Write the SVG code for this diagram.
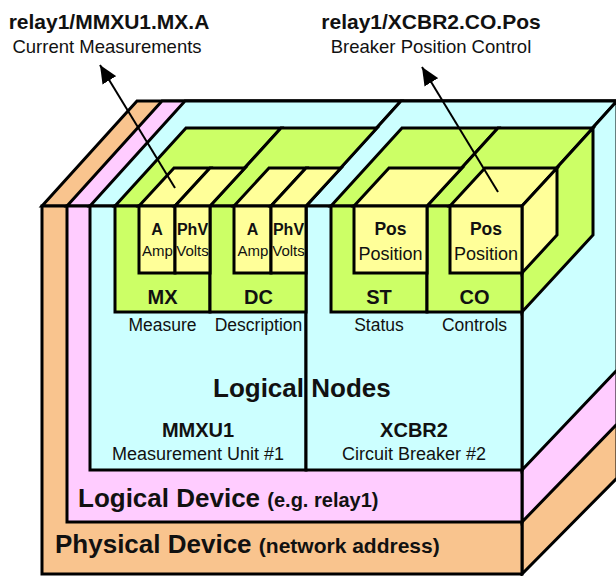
<svg xmlns="http://www.w3.org/2000/svg" width="616" height="576" viewBox="0 0 616 576">
<defs>
<style>
.s{stroke:#000;stroke-width:3;stroke-linejoin:miter}
.or{fill:#F9C48E}.pk{fill:#FFCCFF}.cy{fill:#CCFFFF}.gr{fill:#CCFF66}.ye{fill:#FFFF99}
.ln{fill:none;stroke:#000;stroke-width:3}
text{font-family:"Liberation Sans",Arial,sans-serif;fill:#111;text-anchor:middle}
.b{font-weight:bold}
.ar{stroke:#000;stroke-width:2;fill:none}
</style>
<marker id="ah" markerUnits="userSpaceOnUse" markerWidth="20" markerHeight="16" refX="18" refY="8" orient="auto">
<path d="M0,0 L18,8 L0,16 z" fill="#000"/>
</marker>
</defs>
<rect width="616" height="576" fill="#fff"/>

<g id="physical-device">
<polygon class="s or" points="42,206 522,206 617,101 137,101"/>
<polygon class="s or" points="522,206 617,101 617,478 522,574"/>
<rect class="s or" x="42" y="206" width="480" height="368"/>
<text x="55" y="553" class="b" font-size="26" style="text-anchor:start">Physical Device <tspan font-size="21">(network address)</tspan></text>
</g>

<g id="logical-device">
<polygon class="s pk" points="67,206 522,206 617,101 162,101"/>
<polygon class="s pk" points="522,206 617,101 617,424 522,522"/>
<rect class="s pk" x="67" y="206" width="455" height="316"/>
<text x="78" y="507" class="b" font-size="26" style="text-anchor:start">Logical Device <tspan font-size="20">(e.g. relay1)</tspan></text>
</g>

<g id="logical-nodes">
<g id="mmxu1">
<polygon class="s cy" points="90,206 306,206 401,101 185,101"/>
<rect class="s cy" x="90" y="206" width="216" height="264"/>
<text x="198" y="437" class="b" font-size="20">MMXU1</text>
<text x="198" y="460" font-size="18">Measurement Unit #1</text>
</g>
<g id="xcbr2">
<polygon class="s cy" points="306,206 522,206 617,101 401,101"/>
<polygon class="s cy" points="522,206 617,101 617,370 522,470"/>
<rect class="s cy" x="306" y="206" width="216" height="264"/>
<text x="414" y="437" class="b" font-size="20">XCBR2</text>
<text x="414" y="460" font-size="18">Circuit Breaker #2</text>
</g>
<text x="213" y="397" class="b" font-size="26" style="text-anchor:start">Logical Nodes</text>
</g>

<g id="mx">
<polygon class="s gr" points="115,206 210,206 281,128 186,128"/>
<rect class="s gr" x="115" y="206" width="95" height="106"/>
<text x="162.5" y="304" class="b" font-size="20">MX</text>
<text x="162.5" y="331" font-size="17.5">Measure</text>
</g>
<g id="dc">
<polygon class="s gr" points="210,206 306,206 377,128 281,128"/>
<rect class="s gr" x="210" y="206" width="96" height="106"/>
<text x="258.5" y="304" class="b" font-size="20">DC</text>
<text x="258.5" y="331" font-size="17.5">Description</text>
</g>
<g id="st">
<polygon class="s gr" points="331,206 427,206 498,128 402,128"/>
<rect class="s gr" x="331" y="206" width="96" height="106"/>
<text x="379" y="304" class="b" font-size="20">ST</text>
<text x="379" y="331" font-size="17.5">Status</text>
</g>
<g id="co">
<polygon class="s gr" points="427,206 522,206 593,128 498,128"/>
<polygon class="s gr" points="522,206 593,128 593,235 522,312"/>
<rect class="s gr" x="427" y="206" width="95" height="106"/>
<text x="474.5" y="304" class="b" font-size="20">CO</text>
<text x="474.5" y="331" font-size="17.5">Controls</text>
</g>

<g id="mx-a">
<polygon class="s ye" points="139,206 175,206 210,168 174,168"/>
<rect class="s ye" x="139" y="206" width="36" height="67"/>
<text x="157" y="235" class="b" font-size="16">A</text>
<text x="157.5" y="256" font-size="15">Amp</text>
</g>
<g id="mx-phv">
<polygon class="s ye" points="175,206 210,206 245,168 210,168"/>
<rect class="s ye" x="175" y="206" width="35" height="67"/>
<text x="192.5" y="235" class="b" font-size="16">PhV</text>
<text x="192.5" y="256" font-size="15">Volts</text>
</g>
<g id="dc-a">
<polygon class="s ye" points="234,206 271,206 306,168 269,168"/>
<rect class="s ye" x="234" y="206" width="37" height="67"/>
<text x="252.5" y="235" class="b" font-size="16">A</text>
<text x="253" y="256" font-size="15">Amp</text>
</g>
<g id="dc-phv">
<polygon class="s ye" points="271,206 306,206 341,168 306,168"/>
<rect class="s ye" x="271" y="206" width="35" height="67"/>
<text x="288.5" y="235" class="b" font-size="16">PhV</text>
<text x="288.5" y="256" font-size="15">Volts</text>
</g>
<g id="st-pos">
<polygon class="s ye" points="354,206 427,206 462,168 389,168"/>
<rect class="s ye" x="354" y="206" width="73" height="67"/>
<text x="390.5" y="235" class="b" font-size="17.5">Pos</text>
<text x="390.5" y="260" font-size="18">Position</text>
</g>
<g id="co-pos">
<polygon class="s ye" points="450,206 522,206 557,168 485,168"/>
<polygon class="s ye" points="522,206 557,168 557,235 522,273"/>
<rect class="s ye" x="450" y="206" width="72" height="67"/>
<text x="486" y="235" class="b" font-size="17.5">Pos</text>
<text x="486" y="260" font-size="18">Position</text>
</g>

<g id="connectors">
<line class="ar" x1="175" y1="188" x2="100" y2="65" marker-end="url(#ah)"/>
<line class="ar" x1="498" y1="192" x2="422" y2="67" marker-end="url(#ah)"/>
</g>

<g id="label-mmxu1-mx-a">
<text x="109" y="29" class="b" font-size="21">relay1/MMXU1.MX.A</text>
<text x="107" y="53" font-size="18.5">Current Measurements</text>
</g>
<g id="label-xcbr2-co-pos">
<text x="431" y="29" class="b" font-size="21">relay1/XCBR2.CO.Pos</text>
<text x="431" y="53" font-size="18.5">Breaker Position Control</text>
</g>
</svg>
